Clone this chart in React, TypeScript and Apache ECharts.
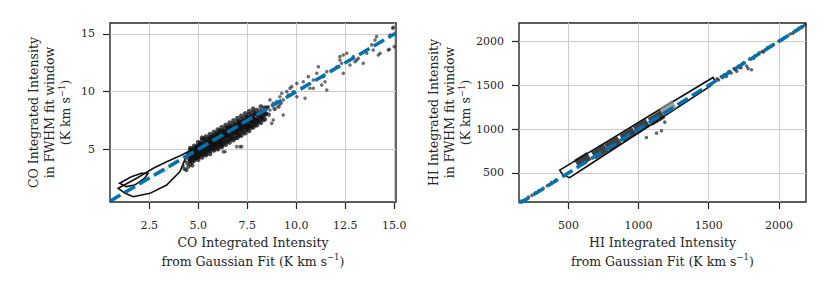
import React, { useEffect, useRef } from "react";
import * as echarts from "echarts";

// ---------- axis ranges & ticks ----------
const CO_X_RANGE = [0.5, 15.09];
const CO_Y_RANGE = [0.43, 15.95];
const HI_X_RANGE = [148, 2193];
const HI_Y_RANGE = [169, 2210];
const CO_X_TICKS = [2.5, 5, 7.5, 10, 12.5, 15];
const CO_Y_TICKS = [5, 10, 15];
const HI_X_TICKS = [500, 1000, 1500, 2000];
const HI_Y_TICKS = [500, 1000, 1500, 2000];

// ---------- CO scatter points (x = Gaussian fit, y = FWHM window) ----------
const CO_SPARSE = [
  [14.95, 15.58], [14.79, 14.91], [14.75, 13.67], [14.19, 13.18], [13.85, 14.05], [13.93, 13.61],
  [13.6, 13.33], [13.42, 12.46], [13.17, 12.89], [12.91, 13.03], [12.58, 13.33], [12.4, 13.18],
  [12.32, 12.46], [12.4, 11.59], [12.23, 12.74], [12.07, 12.16], [12.74, 12.31], [13.0, 12.6],
  [11.56, 11.73], [11.38, 11.3], [11.47, 10.86], [11.3, 10.58], [11.56, 10.14], [11.13, 12.16],
  [11.05, 11.59], [10.87, 11.01], [10.7, 10.29], [10.45, 9.42], [10.03, 10.72], [10.03, 9.56],
  [9.85, 10.0], [9.68, 10.29], [9.52, 10.0], [9.6, 9.71], [9.34, 9.28], [9.17, 9.56],
  [9.0, 9.13], [8.83, 8.99], [8.66, 9.28], [8.58, 8.69], [8.49, 8.12], [8.83, 7.54],
  [8.66, 8.41], [8.32, 8.26], [8.24, 7.83], [8.07, 8.12], [7.99, 7.69], [7.81, 7.83],
  [7.64, 7.54], [7.47, 7.83], [7.56, 7.25], [7.3, 7.39], [7.22, 6.96], [7.05, 7.25],
  [7.13, 5.23], [6.96, 5.23], [6.28, 4.79], [14.02, 14.48], [14.1, 14.77], [14.92, 15.49],
  [15.0, 13.9], [14.7, 13.61], [14.28, 13.33], [13.09, 12.74], [12.23, 13.03], [10.36, 10.86],
  [10.62, 11.3], [10.87, 10.29], [9.77, 10.43], [9.26, 9.86], [8.75, 7.25], [9.34, 7.97],
  [7.22, 5.23], [6.37, 4.79],
];
const CO_DENSE = [
  [4.5, 4.2], [4.55, 4.6], [4.6, 4.4], [4.65, 4.9], [4.7, 4.3], [4.75, 4.7], [4.8, 5.0], [4.85, 4.5],
  [4.9, 4.8], [4.95, 5.2], [5.0, 4.6], [5.0, 5.0], [5.05, 4.9], [5.1, 5.4], [5.1, 4.7], [5.15, 5.1],
  [5.2, 4.9], [5.2, 5.5], [5.25, 5.2], [5.3, 4.8], [5.3, 5.3], [5.35, 5.6], [5.4, 5.0], [5.4, 5.4],
  [5.45, 5.2], [5.5, 5.7], [5.5, 5.0], [5.55, 5.5], [5.6, 5.3], [5.6, 5.9], [5.65, 5.1], [5.7, 5.6],
  [5.7, 5.4], [5.75, 6.0], [5.8, 5.3], [5.8, 5.7], [5.85, 5.5], [5.9, 6.1], [5.9, 5.4], [5.95, 5.9],
  [6.0, 5.6], [6.0, 6.3], [6.05, 5.8], [6.1, 5.5], [6.1, 6.1], [6.15, 6.4], [6.2, 5.9], [6.2, 5.6],
  [6.25, 6.2], [6.3, 6.6], [6.3, 5.8], [6.35, 6.0], [6.4, 6.5], [6.4, 6.2], [6.45, 5.9], [6.5, 6.8],
  [6.5, 6.3], [6.55, 6.1], [6.6, 6.6], [6.6, 6.9], [6.65, 6.2], [6.7, 6.5], [6.7, 7.0], [6.75, 6.3],
  [6.8, 6.8], [6.85, 6.5], [6.9, 7.1], [6.9, 6.4], [6.95, 6.7], [7.0, 7.2], [7.0, 6.6], [7.05, 6.9],
  [7.1, 7.4], [7.1, 6.5], [7.15, 7.0], [7.2, 6.7], [7.25, 7.3], [7.3, 6.9], [7.35, 7.5], [7.4, 7.1],
  [7.45, 6.8], [7.5, 7.6], [7.5, 7.2], [7.6, 7.0], [7.65, 7.7], [7.7, 7.4], [7.8, 7.9], [7.85, 7.3],
  [7.9, 7.6], [8.0, 8.1], [8.05, 7.5], [8.1, 7.8], [8.2, 8.2], [8.3, 7.9], [8.4, 8.4],
  [4.6, 4.75], [4.8, 4.6], [4.9, 5.05], [5.05, 4.75], [5.15, 5.3], [5.25, 4.95], [5.35, 5.35],
  [5.45, 5.5], [5.55, 5.15], [5.65, 5.75], [5.75, 5.45], [5.85, 5.85], [5.95, 5.6], [6.05, 6.15],
  [6.15, 5.75], [6.25, 6.45], [6.35, 6.25], [6.45, 6.6], [6.55, 6.45], [6.65, 6.05], [6.75, 6.65],
  [6.85, 6.95], [6.95, 6.45], [7.05, 6.65], [7.15, 7.3], [7.25, 6.85], [7.35, 7.1], [7.45, 7.45],
  [7.55, 6.95], [7.7, 7.1], [7.75, 7.55], [7.95, 7.35], [8.1, 8.0], [8.25, 7.7], [8.45, 8.1],
  [8.6, 8.0], [8.5, 8.6], [8.9, 8.5], [9.1, 8.7], [9.2, 9.0],
  [4.3, 4.0], [4.4, 4.5], [4.2, 3.6], [4.0, 3.3], [4.45, 3.8], [4.6, 4.0], [4.7, 3.9], [4.9, 4.2],
  [5.0, 4.3], [5.2, 4.5], [5.4, 4.6], [5.6, 4.8], [5.8, 5.0], [6.0, 5.1], [6.2, 5.3],
  [4.3, 3.3], [4.5, 3.5], [4.6, 3.7], [4.8, 4.0], [4.4, 3.2], [4.7, 3.6],
];
// densest part of the CO cloud, read column by column: [x, [y values]]
const CO_BAND_ROWS: [number, number[]][] = [
  [4.6, [4.0, 4.3, 4.9, 5.1]], [4.7, [4.1, 4.6, 5.0]], [4.8, [4.2, 4.4, 4.8, 5.3]],
  [4.9, [4.3, 4.7, 5.2]], [5.0, [4.1, 4.4, 4.8, 5.3, 5.6]], [5.1, [4.5, 5.0, 5.5]],
  [5.2, [4.3, 4.7, 5.1, 5.8, 6.0]], [5.3, [4.6, 5.4, 5.9]], [5.4, [4.5, 4.8, 5.2, 5.7, 6.1]],
  [5.5, [4.9, 5.3, 5.9]], [5.6, [4.6, 5.0, 5.5, 6.0, 6.3]], [5.7, [5.1, 5.4, 6.1]],
  [5.8, [4.9, 5.2, 5.6, 6.2, 6.5]], [5.9, [5.3, 5.8, 6.3]], [6.0, [5.0, 5.4, 5.9, 6.4, 6.7]],
  [6.1, [5.3, 5.7, 6.2, 6.6]], [6.2, [5.2, 5.5, 6.0, 6.6, 6.9]], [6.3, [5.5, 6.1, 6.5]],
  [6.4, [5.4, 5.7, 6.3, 6.8, 7.1]], [6.5, [5.7, 6.2, 6.9]], [6.6, [5.6, 5.9, 6.4, 7.0, 7.3]],
  [6.7, [5.9, 6.3, 6.8]], [6.8, [5.8, 6.1, 6.6, 7.2, 7.5]], [6.9, [6.0, 6.5, 7.1]],
  [7.0, [6.0, 6.3, 6.9, 7.4, 7.7]], [7.1, [6.2, 6.8, 7.3]], [7.2, [6.2, 6.6, 7.1, 7.6, 7.9]],
  [7.3, [6.5, 7.0, 7.5]], [7.4, [6.4, 6.8, 7.3, 7.8, 8.1]], [7.5, [6.7, 7.1, 7.7]],
  [7.6, [6.6, 7.0, 7.5, 8.0, 8.3]], [7.7, [6.9, 7.4, 7.9]], [7.8, [6.9, 7.2, 7.7, 8.2, 8.5]],
  [7.9, [7.1, 7.6, 8.1]], [8.0, [7.1, 7.5, 8.0, 8.4]], [8.1, [7.4, 7.9]],
  [8.2, [7.3, 7.7, 8.3, 8.7]], [8.3, [7.6, 8.1]], [8.4, [7.6, 8.0, 8.6]],
];

// ---------- CO density contours ----------
const CO_CONTOUR_OUTER = [
  [0.92, 1.62], [1.86, 2.49], [2.71, 3.35], [3.39, 3.92], [4.16, 4.51], [4.48, 4.79],
  [4.07, 3.06], [3.39, 1.9], [2.54, 1.18], [1.69, 0.89], [1.27, 1.18],
];
const CO_CONTOUR_MID = [
  [2.9, 3.1], [3.2, 3.4], [3.5, 3.45], [3.4, 3.0], [3.0, 2.8],
];
const CO_CONTOUR_INNER = [
  [0.99, 2.05], [1.59, 2.62], [2.1, 2.92], [2.44, 2.92], [2.27, 2.49], [1.76, 1.9], [1.33, 1.76],
];

// ---------- HI scatter points ----------
const HI_POINTS = [
  [165, 180], [190, 195], [215, 225], [240, 245], [265, 275], [290, 300], [320, 325], [350, 355],
  [380, 390], [410, 420], [1056, 904], [1128, 954], [1163, 981], [1187, 1080],
  [1560, 1575], [1590, 1600], [1610, 1620], [1625, 1600], [1640, 1650], [1660, 1640], [1680, 1690],
  [1700, 1660], [1715, 1720], [1730, 1700], [1750, 1760], [1770, 1720], [1780, 1690], [1790, 1800],
  [1805, 1677], [1830, 1835], [1860, 1870], [1890, 1880], [1920, 1930], [1960, 1965], [2000, 2005],
  [2040, 2045], [2080, 2085], [2120, 2125], [2160, 2165], [2185, 2190],
  [1570, 1560], [1600, 1590], [1650, 1655], [1690, 1680], [1720, 1705], [1740, 1745], [1820, 1810],
  [1880, 1885], [1940, 1945], [2020, 2020], [2100, 2095], [2140, 2150], [2170, 2170],
];
const HI_BLOCKS = [
  [602, 650], [723, 744], [818, 832], [925, 935], [1021, 1030], [1128, 1126],
];
const HI_BLOCKS_LIGHT = [[1210, 1240]];
const HI_CONTOUR = [
  [438, 532], [521, 612], [795, 878], [1080, 1155], [1317, 1384], [1531, 1589],
  [1544, 1551], [1508, 1486], [1223, 1189], [937, 893], [675, 619], [509, 447], [461, 478],
];

const FONT = "DejaVu Serif";
const TXT = "#262626";
const BLUE = "#0072b2";

function polygon(xi: number, pts: number[][], fill: string, stroke: string, z: number) {
  return {
    type: "custom",
    xAxisIndex: xi,
    yAxisIndex: xi,
    clip: true,
    silent: true,
    z,
    data: [pts[0]],
    renderItem: (_p: any, api: any) => ({
      type: "polygon",
      shape: { points: pts.map((p) => api.coord(p)) },
      style: { fill, stroke, lineWidth: 1.6 },
    }),
  };
}

function oneToOne(xi: number, range: number[]) {
  const lo = range[0];
  const hi = range[1];
  return {
    type: "line",
    xAxisIndex: xi,
    yAxisIndex: xi,
    data: [[lo, lo], [hi, hi]],
    symbol: "none",
    clip: true,
    z: 10,
    lineStyle: { color: BLUE, width: 3.5, type: [12, 5] },
  };
}

function scatter(xi: number, data: number[][], size: number, opacity: number) {
  return {
    type: "scatter",
    xAxisIndex: xi,
    yAxisIndex: xi,
    data,
    symbolSize: size,
    z: 2,
    itemStyle: { color: "#111111", opacity },
  };
}

const richX = {
  a: { fontFamily: FONT, fontSize: 12.5, color: TXT, lineHeight: 19 },
  sup: { fontFamily: FONT, fontSize: 8.5, color: TXT, lineHeight: 10, verticalAlign: "top" },
};
const richY = {
  a: { fontFamily: FONT, fontSize: 12.5, color: TXT, lineHeight: 16 },
  sup: { fontFamily: FONT, fontSize: 8.5, color: TXT, lineHeight: 8, verticalAlign: "top" },
};

function xAxis(idx: number, range: number[], ticks: number[], name: string, fmt: (v: number) => string) {
  return {
    type: "value",
    gridIndex: idx,
    min: range[0],
    max: range[1],
    name,
    nameLocation: "middle",
    nameGap: 31,
    nameTextStyle: { rich: richX },
    axisLine: { show: false },
    axisTick: { show: true, length: 7, customValues: ticks, lineStyle: { color: TXT, width: 1.2 } },
    axisLabel: { customValues: ticks, margin: 18, fontFamily: FONT, fontSize: 11, color: TXT, formatter: fmt },
    splitLine: { show: true, lineStyle: { color: "#cccccc", width: 1 } },
  };
}
function yAxis(idx: number, range: number[], ticks: number[], name: string, gap: number) {
  return {
    type: "value",
    gridIndex: idx,
    min: range[0],
    max: range[1],
    name,
    nameLocation: "middle",
    nameGap: gap,
    nameTextStyle: { rich: richY },
    axisLine: { show: false },
    axisTick: { show: true, length: 7, customValues: ticks, lineStyle: { color: TXT, width: 1.2 } },
    axisLabel: { customValues: ticks, margin: 15, fontFamily: FONT, fontSize: 11, color: TXT, formatter: (v: number) => String(v) },
    splitLine: { show: true, lineStyle: { color: "#cccccc", width: 1 } },
  };
}

export default function App() {
  const ref = useRef<HTMLDivElement>(null);
  useEffect(() => {
    if (!ref.current) return;
    const chart = echarts.init(ref.current, null, { renderer: "svg" });
    const unit = "{a|(K km s}{sup|−1}{a|)}";
    const band: number[][] = [];
    CO_BAND_ROWS.forEach(([x, ys]) => ys.forEach((y) => band.push([x, y])));
    chart.setOption({
      animation: false,
      backgroundColor: "#ffffff",
      grid: [
        { left: 110, top: 23, width: 286, height: 179, show: true, borderColor: TXT, borderWidth: 1.4, backgroundColor: "transparent" },
        { left: 519, top: 23, width: 287, height: 179, show: true, borderColor: TXT, borderWidth: 1.4, backgroundColor: "transparent" },
      ],
      xAxis: [
        xAxis(0, CO_X_RANGE, CO_X_TICKS, "{a|CO Integrated Intensity}\n{a|from Gaussian Fit }" + unit, (v) => v.toFixed(1)),
        xAxis(1, HI_X_RANGE, HI_X_TICKS, "{a|HI Integrated Intensity}\n{a|from Gaussian Fit }" + unit, (v) => String(v)),
      ],
      yAxis: [
        yAxis(0, CO_Y_RANGE, CO_Y_TICKS, "{a|CO Integrated Intensity}\n{a|in FWHM fit window}\n" + unit, 37),
        yAxis(1, HI_Y_RANGE, HI_Y_TICKS, "{a|HI Integrated Intensity}\n{a|in FWHM fit window}\n" + unit, 43),
      ],
      series: [
        scatter(0, CO_SPARSE, 3.6, 0.6),
        scatter(0, CO_DENSE, 4.4, 0.7),
        scatter(0, band, 4.8, 0.75),
        polygon(0, CO_CONTOUR_OUTER, "#f7f7f7", "#111111", 4),
        polygon(0, CO_CONTOUR_MID, "#d9d9d9", "none", 5),
        polygon(0, CO_CONTOUR_INNER, "rgba(0,0,0,0)", "#111111", 6),
        oneToOne(0, CO_X_RANGE),
        scatter(1, HI_POINTS, 3.6, 0.65),
        polygon(1, HI_CONTOUR, "#f7f7f7", "#111111", 4),
        {
          type: "scatter",
          xAxisIndex: 1,
          yAxisIndex: 1,
          data: HI_BLOCKS,
          symbol: "rect",
          symbolSize: [15, 9],
          symbolRotate: 32,
          z: 6,
          itemStyle: { color: "#111111" },
        },
        {
          type: "scatter",
          xAxisIndex: 1,
          yAxisIndex: 1,
          data: HI_BLOCKS_LIGHT,
          symbol: "rect",
          symbolSize: [15, 9],
          symbolRotate: 32,
          z: 6,
          itemStyle: { color: "#8a8a8a" },
        },
        oneToOne(1, HI_X_RANGE),
      ],
    });
    return () => chart.dispose();
  }, []);
  return <div ref={ref} style={{ position: "fixed", left: 0, top: 0, width: 830, height: 285 }} />;
}
